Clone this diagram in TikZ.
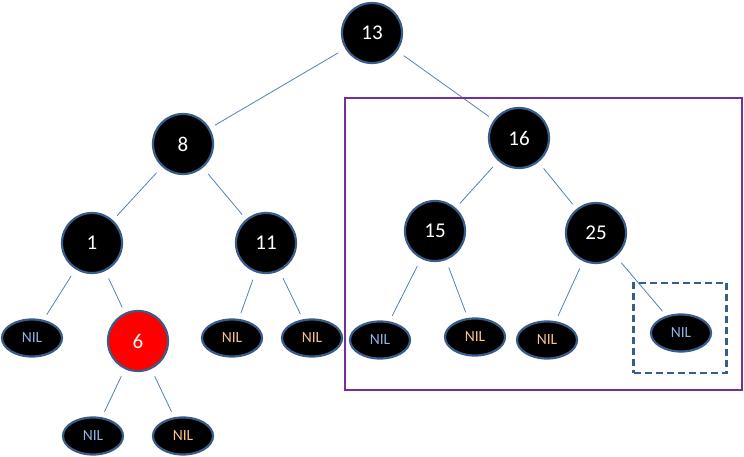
\documentclass[tikz,border=0pt]{standalone}
\usepackage{fontspec}
\setmainfont{Carlito}
\usetikzlibrary{shapes.geometric}
\definecolor{nodeedge}{HTML}{385D8A}
\definecolor{linkc}{HTML}{4F81BD}
\definecolor{nilblue}{HTML}{8DB4E2}
\definecolor{nilorange}{HTML}{FAC090}
\definecolor{boxpurple}{HTML}{7030A0}
\tikzset{
  x=1pt, y=-1pt,
  rbnode/.style={circle, draw=nodeedge, line width=2.2pt, fill=black, minimum size=60pt, inner sep=0pt, text=white, font=\fontsize{21}{21}\selectfont},
  rednode/.style={rbnode, fill=red},
  nilnode/.style={ellipse, draw=nodeedge, line width=2.2pt, fill=black, minimum width=60pt, minimum height=37pt, inner sep=0pt, font=\fontsize{15.5}{15.5}\selectfont},
  nilb/.style={nilnode, text=nilblue},
  nilo/.style={nilnode, text=nilorange},
  link/.style={draw=linkc, line width=0.8pt, shorten <=8pt, shorten >=6pt},
}
\begin{document}
\begin{tikzpicture}
\useasboundingbox (0,0) rectangle (744,457);
\node[rbnode] (n13) at (372,33) {13};
\node[rbnode] (n8) at (183,144) {8};
\node[rbnode] (n16) at (519,138) {16};
\node[rbnode] (n1) at (92,243) {1};
\node[rbnode] (n11) at (266,243) {11};
\node[rbnode] (n15) at (435,231) {15};
\node[rbnode] (n25) at (596,233) {25};
\node[rednode] (n6) at (138,341) {6};
\node[nilb] (a) at (32,338) {NIL};
\node[nilo] (b) at (232,338) {NIL};
\node[nilo] (c) at (312,338) {NIL};
\node[nilb] (d) at (380,340) {NIL};
\node[nilo] (e) at (475,337) {NIL};
\node[nilo] (f) at (547,340) {NIL};
\node[nilb] (g) at (681,333) {NIL};
\node[nilb] (h) at (93,436) {NIL};
\node[nilo] (i) at (183,436) {NIL};
\draw[link] (n13) -- (n8);
\draw[link] (n13) -- (n16);
\draw[link] (n8) -- (n1);
\draw[link] (n8) -- (n11);
\draw[link] (n1) -- (a);
\draw[link] (n1) -- (n6);
\draw[link] (n11) -- (b);
\draw[link] (n11) -- (c);
\draw[link] (n16) -- (n15);
\draw[link] (n16) -- (n25);
\draw[link] (n15) -- (d);
\draw[link] (n15) -- (e);
\draw[link] (n25) -- (f);
\draw[link] (n25) -- (g);
\draw[link] (n6) -- (h);
\draw[link] (n6) -- (i);
\node[draw=boxpurple, line width=2.5pt, minimum width=397pt, minimum height=292pt, inner sep=0pt] (box) at (543.5,244) {};
\node[draw=nodeedge, line width=2.2pt, dashed, dash pattern=on 7pt off 4pt, minimum width=93pt, minimum height=90pt, inner sep=0pt] (dbox) at (680,328) {};
\end{tikzpicture}
\end{document}
